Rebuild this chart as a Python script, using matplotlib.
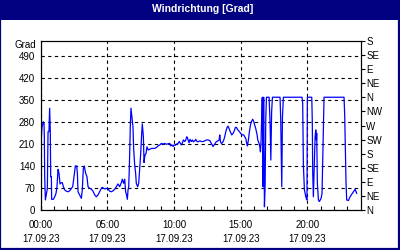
import matplotlib
matplotlib.use('Agg')
import matplotlib.pyplot as plt
from matplotlib.patches import Rectangle

# wind direction in degrees over one day (hour of day, value)
hours = [0.0, 0.02, 0.1, 0.2, 0.25, 0.27, 0.3, 0.35, 0.5, 0.55, 0.62, 0.67, 0.72, 0.75, 0.8, 0.82,
         0.95, 1.05, 1.15, 1.22, 1.3, 1.37, 1.45, 1.55, 1.62, 1.7, 1.8, 1.92, 2.05, 2.17, 2.3, 2.4,
         2.5, 2.6, 2.7, 2.75, 2.8, 2.92, 3.05, 3.12, 3.2, 3.27, 3.37, 3.47, 3.55, 3.67, 3.8, 3.92,
         4.05, 4.17, 4.3, 4.42, 4.55, 4.62, 4.72, 4.82, 4.92, 5.05, 5.17, 5.3, 5.42, 5.55, 5.67,
         5.8, 5.92, 6.05, 6.12, 6.22, 6.3, 6.37, 6.42, 6.5, 6.55, 6.6, 6.65, 6.72, 6.77, 6.85, 6.92,
         6.97, 7.05, 7.12, 7.17, 7.27, 7.35, 7.42, 7.5, 7.57, 7.62, 7.7, 7.75, 7.82, 7.9, 7.97,
         8.07, 8.17, 8.3, 8.55, 8.68, 8.8, 8.93, 9.05, 9.18, 9.3, 9.43, 9.55, 9.68, 9.75, 9.85,
         9.93, 10.0, 10.1, 10.2, 10.3, 10.4, 10.5, 10.55, 10.63, 10.7, 10.8, 10.88, 10.95, 11.0,
         11.05, 11.13, 11.2, 11.3, 11.38, 11.45, 11.55, 11.63, 11.7, 11.8, 11.93, 12.05, 12.18,
         12.3, 12.43, 12.55, 12.68, 12.8, 12.93, 13.05, 13.18, 13.3, 13.38, 13.43, 13.48, 13.55,
         13.63, 13.73, 13.8, 13.88, 13.98, 14.05, 14.13, 14.23, 14.33, 14.43, 14.53, 14.6, 14.68,
         14.75, 14.83, 14.93, 15.03, 15.13, 15.23, 15.3, 15.38, 15.45, 15.5, 15.58, 15.65, 15.73,
         15.8, 15.9, 15.98, 16.05, 16.13, 16.18, 16.23, 16.28, 16.38, 16.43, 16.48, 16.53, 16.57,
         16.6, 16.63, 16.66, 16.68, 16.72, 16.78, 16.83, 16.88, 16.93, 17.13, 17.17, 17.2, 17.26,
         17.32, 17.38, 17.95, 18.0, 18.08, 18.13, 18.2, 19.6, 19.65, 19.7, 19.78, 19.88, 19.97,
         20.0, 20.33, 20.37, 20.4, 20.45, 20.53, 20.58, 20.63, 20.68, 20.7, 20.75, 20.83, 20.9,
         21.03, 21.1, 21.13, 21.2, 21.25, 22.75, 22.8, 22.85, 22.9, 22.95, 23.08, 23.2, 23.33,
         23.45, 23.58, 23.7]
grad = [107, 213, 266, 282, 275, 240, 107, 33, 70, 250, 250, 325, 250, 107, 107, 35,
        35, 43, 54, 75, 130, 118, 84, 88, 88, 75, 65, 61, 59, 62, 70, 75,
        107, 141, 141, 118, 59, 49, 38, 66, 134, 141, 118, 107, 75, 70, 67, 61,
        49, 43, 49, 59, 70, 73, 70, 68, 70, 68, 61, 59, 62, 67, 75,
        84, 75, 88, 99, 86, 99, 59, 52, 35, 65, 75, 139, 266, 325, 293, 266,
        197, 144, 118, 86, 75, 86, 128, 181, 240, 275, 234, 152, 176, 181, 202,
        192, 194, 197, 197, 200, 205, 208, 213, 211, 213, 210, 212, 213, 205, 208,
        203, 208, 207, 211, 213, 219, 211, 208, 215, 224, 219, 224, 234, 232,
        224, 215, 226, 219, 224, 218, 221, 226, 220, 218, 221, 219, 219,
        221, 224, 224, 222, 213, 203, 211, 219, 221, 224, 240, 219, 213,
        215, 224, 234, 250, 264, 268, 260, 249, 240, 245, 254, 264, 264,
        258, 254, 249, 243, 240, 240, 234, 229, 213, 205, 224, 250, 271,
        282, 290, 282, 271, 260, 250, 240, 224, 213, 203, 186, 224, 290,
        355, 360, 200, 75, 360, 11, 75, 290, 360, 360, 314, 282, 160,
        314, 360, 360, 293, 75, 293, 360, 360, 340, 144, 65, 43, 33,
        360, 360, 282, 123, 43, 160, 234, 256, 224, 245, 86, 33, 28,
        38, 54, 118, 271, 360, 360, 303, 197, 86, 33, 31, 43, 51,
        59, 67, 54]

time_ticks = [0, 5, 10, 15, 20]
time_labels = ['00:00', '05:00', '10:00', '15:00', '20:00']
date_label = '17.09.23'
grad_ticks = [0, 70, 140, 210, 280, 350, 420, 490]
compass = ['N', 'NE', 'E', 'SE', 'S', 'SW', 'W', 'NW', 'N', 'NE', 'E', 'SE', 'S']

navy = '#000080'
plt.rcParams['font.family'] = ['Liberation Sans', 'DejaVu Sans']
plt.rcParams['font.size'] = 7

fig = plt.figure(figsize=(4, 2.5), dpi=100)
fig.patch.set_facecolor('white')

# title bar + frame
fig.add_artist(Rectangle((0, 1 - 20 / 250), 1, 20 / 250, transform=fig.transFigure,
                         facecolor=navy, edgecolor='none'))
fig.add_artist(Rectangle((0.001, 0.003), 0.997, 0.995, transform=fig.transFigure,
                         facecolor='none', edgecolor=navy, linewidth=1.6))
fig.text(0.506, 1 - 9.5 / 250, 'Windrichtung [Grad]', color='white', fontweight='bold',
         fontsize=7.5, ha='center', va='center')

ax = fig.add_axes([40.7 / 400, 39.7 / 250, 320 / 400, 169.6 / 250])
ax.plot(hours, grad, color='#0000ff', linewidth=0.9)
ax.set_xlim(0, 24)
ax.set_ylim(0, 540)

ax.set_xticks(time_ticks)
ax.set_xticklabels([t + '\n' + date_label for t in time_labels], linespacing=1.45)
ax.set_xticks(range(1, 24), minor=True)
ax.tick_params(axis='x', which='both', direction='in', length=3, width=0.8, pad=7)
ax.set_yticks(grad_ticks)
ax.tick_params(axis='y', length=0, pad=4)
ax.grid(True, which='major', color='black', linestyle=(0, (3, 3)), linewidth=0.8)
for sp in ax.spines.values():
    sp.set_linewidth(0.8)

ax2 = ax.twinx()
ax2.set_ylim(0, 540)
ax2.set_yticks(range(0, 541, 45))
ax2.set_yticklabels(compass)
ax2.tick_params(axis='y', direction='out', length=3, width=0.8, pad=1)
for sp in ax2.spines.values():
    sp.set_linewidth(0.8)

fig.text(36 / 400, 1 - 45 / 250, 'Grad', ha='right', va='center')

fig.savefig('out.png', dpi=100)
